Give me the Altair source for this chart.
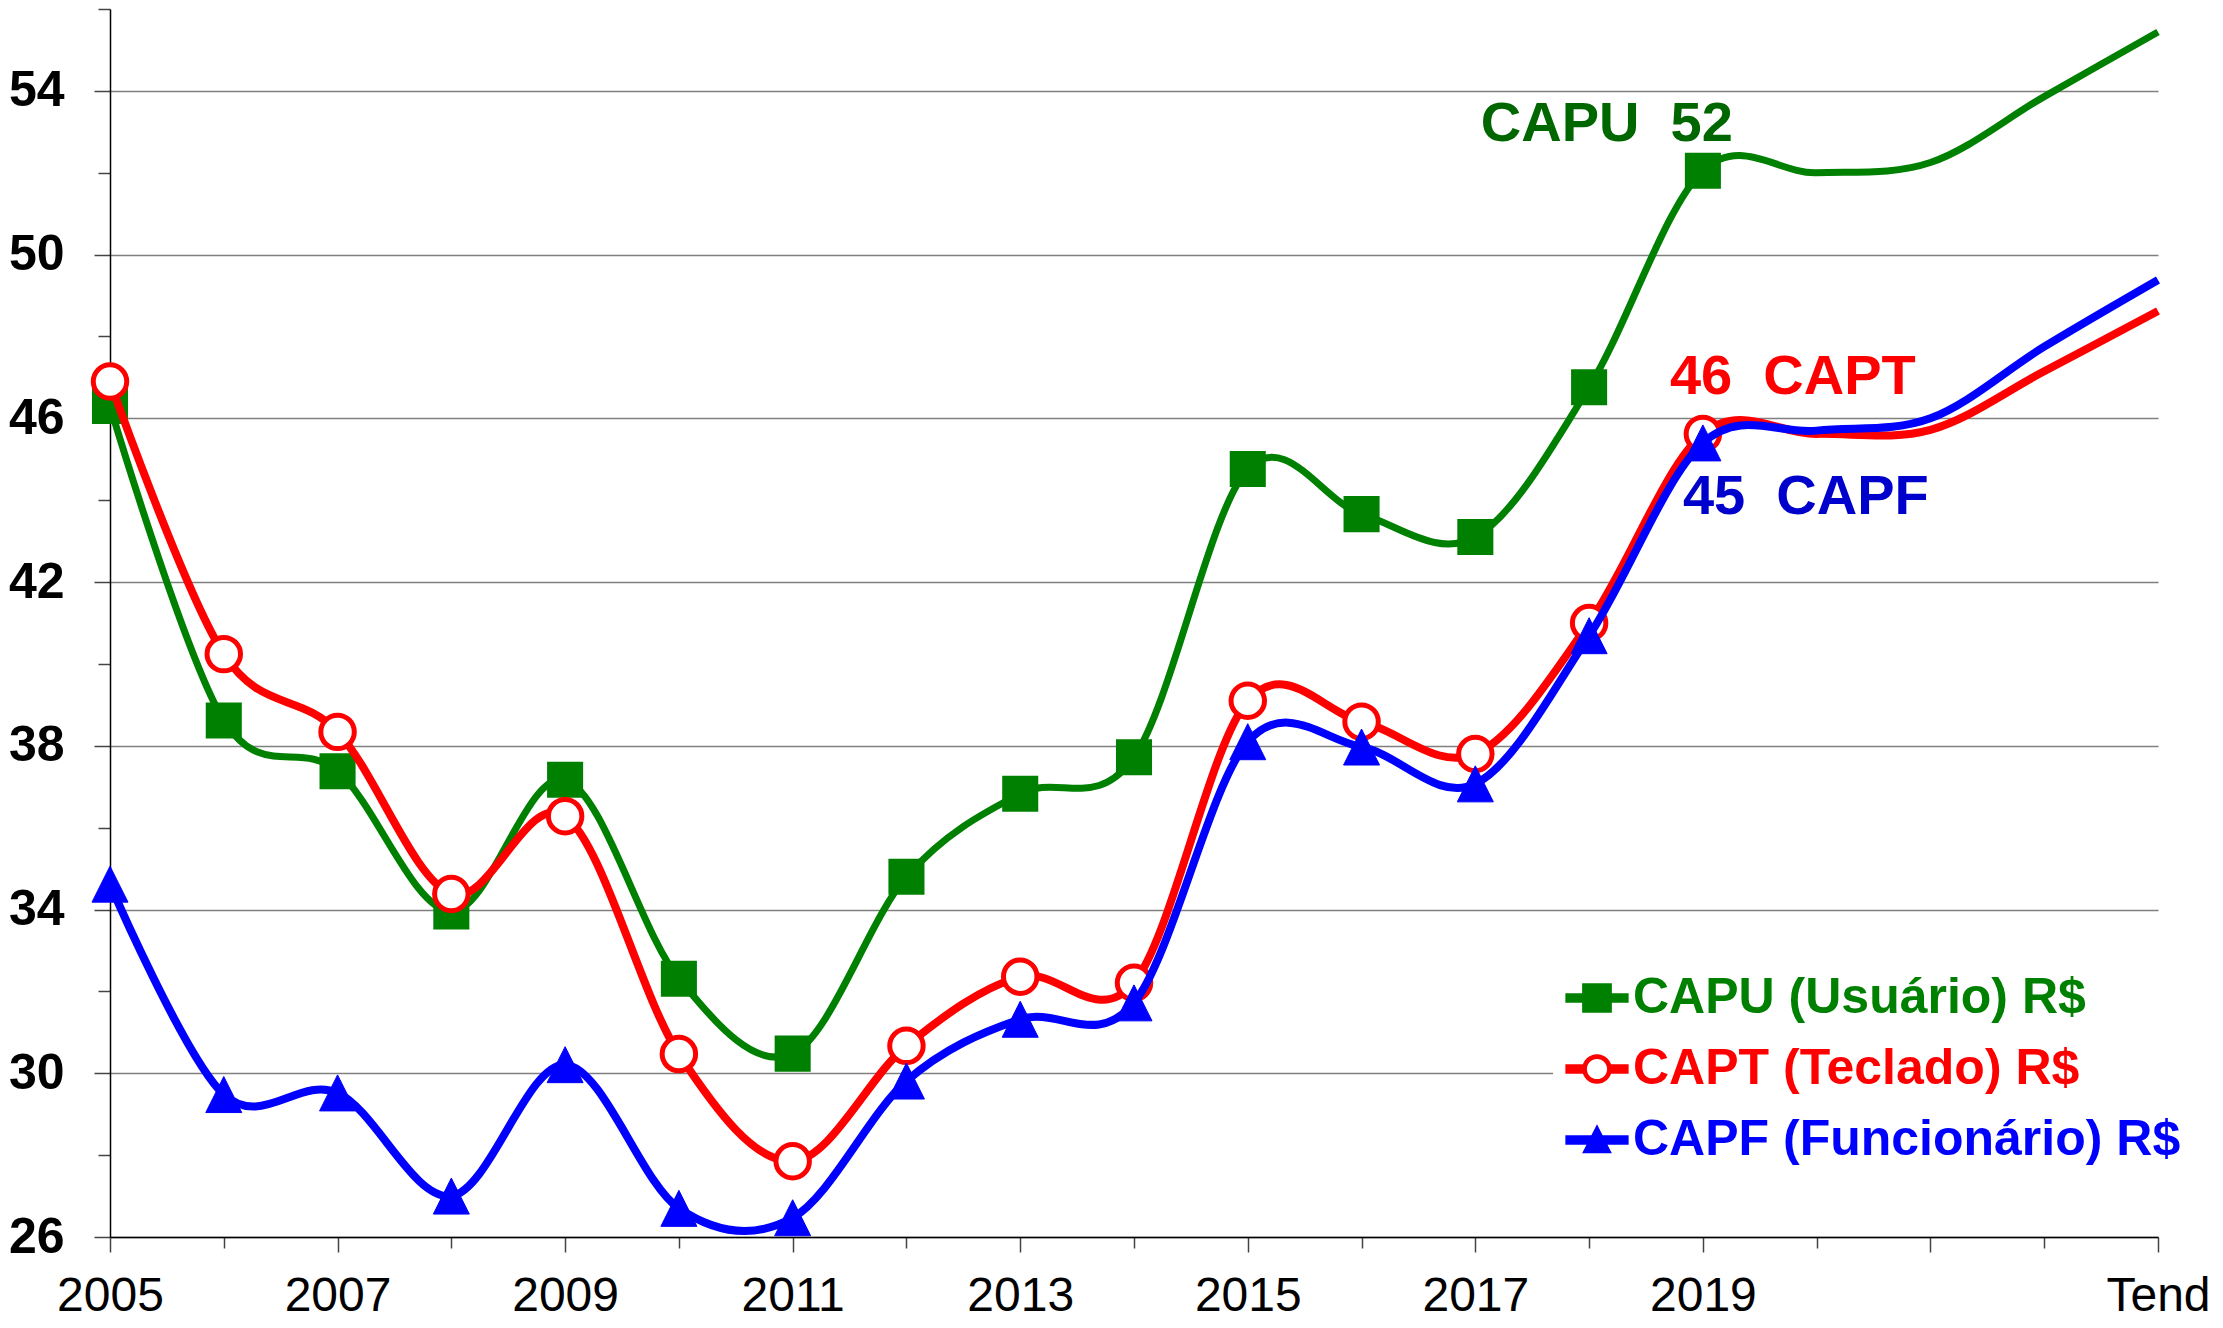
import altair as alt
import pandas as pd

# ---------------- data ----------------
years = ["2005", "2006", "2007", "2008", "2009", "2010", "2011", "2012", "2013",
         "2014", "2015", "2016", "2017", "2018", "2019", "2020", "2021", "2022", "Tend"]
measured_years = years[:15]

capu = [46.30, 38.62, 37.38, 33.95, 37.17, 32.31, 30.48, 34.80, 36.83, 37.72,
        44.76, 43.66, 43.10, 46.76, 52.05, 52.00, 52.25, 53.86, 55.44]
capt = [46.90, 40.24, 38.34, 34.38, 36.28, 30.47, 27.85, 30.67, 32.36, 32.21,
        39.10, 38.59, 37.80, 41.00, 45.62, 45.62, 45.72, 47.15, 48.62]
capf = [34.62, 29.48, 29.52, 27.00, 30.21, 26.70, 26.47, 29.81, 31.32, 31.72,
        38.10, 37.97, 37.07, 40.69, 45.40, 45.70, 46.00, 47.75, 49.38]

series_names = ["CAPU", "CAPT", "CAPF"]
legend_labels = ["CAPU (Usuário) R$", "CAPT (Teclado) R$", "CAPF (Funcionário) R$"]

shown_x_labels = ["2005", "2007", "2009", "2011", "2013", "2015", "2017", "2019", "Tend"]
long_x_ticks = shown_x_labels + ["2021"]
y_tick_values = list(range(26, 57, 2))

rows = []
for name, label, vals in zip(series_names, legend_labels, [capu, capt, capf]):
    for yr, v in zip(years, vals):
        rows.append({"year": yr, "value": v, "series": name, "label": label,
                     "measured": yr in measured_years})
df = pd.DataFrame(rows)

# ---------------- styles ----------------
FONT = "Liberation Sans"
GREEN, RED, BLUE = "#008000", "#FF0000", "#0000FF"
colors = [GREEN, RED, BLUE]


def ring(r, clockwise=True):
    k = 0.5523 * r
    if clockwise:
        return (f"M0,{-r} C{k},{-r} {r},{-k} {r},0 C{r},{k} {k},{r} 0,{r} "
                f"C{-k},{r} {-r},{k} {-r},0 C{-r},{-k} {-k},{-r} 0,{-r} Z")
    return (f"M0,{-r} C{-k},{-r} {-r},{-k} {-r},0 C{-r},{k} {-k},{r} 0,{r} "
            f"C{k},{r} {r},{k} {r},0 C{r},{-k} {k},{-r} 0,{-r} Z")


bar = "M-1,-0.15 H1 V0.15 H-1 Z"
legend_paths = [
    bar + " M-0.47,-0.47 H0.47 V0.47 H-0.47 Z",
    "M-1,-0.15 H-0.4 V0.15 H-1 Z M0.4,-0.15 H1 V0.15 H0.4 Z "
    + ring(0.47, True) + " " + ring(0.32, False),
    bar + " M0,-0.5 L0.47,0.42 L-0.47,0.42 Z",
]

label_color_expr = " : ".join(
    f"datum.value == '{lab}' ? '{col}'" for lab, col in zip(legend_labels, colors)
) + " : 'black'"

x_shown_test = f"indexof({shown_x_labels!r}, datum.value) >= 0"
y_major_test = "datum.value % 4 == 2"

x_enc = alt.X(
    "year:O",
    sort=years,
    scale=alt.Scale(type="point", padding=0, domain=years),
    axis=alt.Axis(
        title=None, labelAngle=0,
        labelExpr=f"{x_shown_test} ? datum.label : ''",
        labelFont=FONT, labelFontWeight="normal", labelColor="black",
        labelFontSize={"condition": {"test": x_shown_test, "value": 48}, "value": 0},
        labelPadding=20, labelOverlap=False,
        tickSize={"condition": {"test": f"indexof({long_x_ticks!r}, datum.value) >= 0",
                                "value": 15}, "value": 11},
        tickColor="#444444", tickWidth=1.5,
        domainColor="black", domainWidth=1.5, grid=False,
    ),
)
y_enc = alt.Y(
    "value:Q",
    scale=alt.Scale(domain=[26, 56], nice=False, zero=False),
    axis=alt.Axis(
        title=None, values=y_tick_values,
        labelExpr=f"{y_major_test} ? datum.label : ''",
        labelFont=FONT, labelFontWeight="bold", labelColor="black",
        labelFontSize={"condition": {"test": y_major_test, "value": 50}, "value": 0},
        labelPadding=30, labelOverlap=False,
        tickSize={"condition": {"test": y_major_test, "value": 16}, "value": 12},
        tickColor="#444444", tickWidth=1.5,
        grid=True, gridColor="#808080", gridWidth=1.5,
        gridOpacity={"condition": {"test": y_major_test, "value": 1}, "value": 0},
        domainColor="black", domainWidth=1.5,
    ),
)

base = alt.Chart(df)

line_styles = {
    "CAPU": dict(color=GREEN, strokeWidth=7),
    "CAPT": dict(color=RED, strokeWidth=8),
    "CAPF": dict(color=BLUE, strokeWidth=8),
}
point_styles = {
    "CAPU": dict(shape="square", filled=True, fill=GREEN, stroke=GREEN, strokeWidth=0, size=1300),
    "CAPT": dict(shape="circle", filled=True, fill="white", stroke=RED, strokeWidth=5, size=1120),
    "CAPF": dict(shape="M0,-1 L1,1 L-1,1 Z", filled=True, fill=BLUE, stroke=BLUE,
                 strokeWidth=1, size=1296),
}
text_styles = {
    "CAPU": dict(expr="datum.series + '\u00a0 ' + format(datum.value, '.0f')",
                 align="right", dx=30, dy=-30, color="#006600"),
    "CAPT": dict(expr="format(datum.value, '.0f') + '\u00a0 ' + datum.series",
                 align="left", dx=-33, dy=-40, color=RED),
    "CAPF": dict(expr="format(datum.value, '.0f') + '\u00a0 ' + datum.series",
                 align="left", dx=-20, dy=71, color="#0000CC"),
}

layers = []
for name in series_names:
    s = base.transform_filter(alt.datum.series == name)
    layers.append(
        s.mark_line(interpolate="cardinal", **line_styles[name]).encode(x=x_enc, y=y_enc)
    )
    layers.append(
        s.transform_filter(alt.datum.measured)
        .mark_point(opacity=1, **point_styles[name])
        .encode(x=x_enc, y=y_enc)
    )

for name in series_names:
    ts = text_styles[name]
    layers.append(
        base.transform_filter((alt.datum.series == name) & (alt.datum.year == measured_years[-1]))
        .transform_calculate(txt=ts["expr"])
        .mark_text(font=FONT, fontSize=56, fontWeight="bold", baseline="alphabetic",
                   align=ts["align"], dx=ts["dx"], dy=ts["dy"], color=ts["color"])
        .encode(x=x_enc, y=y_enc, text="txt:N")
    )

leg = alt.Legend(
    title=None, orient="none", legendX=1443, legendY=945,
    symbolSize=4000, symbolStrokeWidth=0, symbolOpacity=1,
    labelFont=FONT, labelFontSize=50, labelFontWeight="bold", labelLimit=1000,
    labelOffset=4, labelColor=alt.ExprRef(label_color_expr),
    rowPadding=14, padding=12, fillColor="white",
)
legend_layer = (
    base.transform_filter("false")
    .mark_point(filled=True)
    .encode(
        shape=alt.Shape("label:N", scale=alt.Scale(domain=legend_labels, range=legend_paths), legend=leg),
        color=alt.Color("label:N", scale=alt.Scale(domain=legend_labels, range=colors), legend=leg),
    )
)
layers.append(legend_layer)

chart = (
    alt.layer(*layers)
    .properties(width=2048, height=1228, background="white",
                padding={"left": 0, "top": 0, "right": 0, "bottom": 0})
    .configure_view(stroke=None)
)

chart.save("out.html", embed_options={"renderer": "svg", "actions": False})
